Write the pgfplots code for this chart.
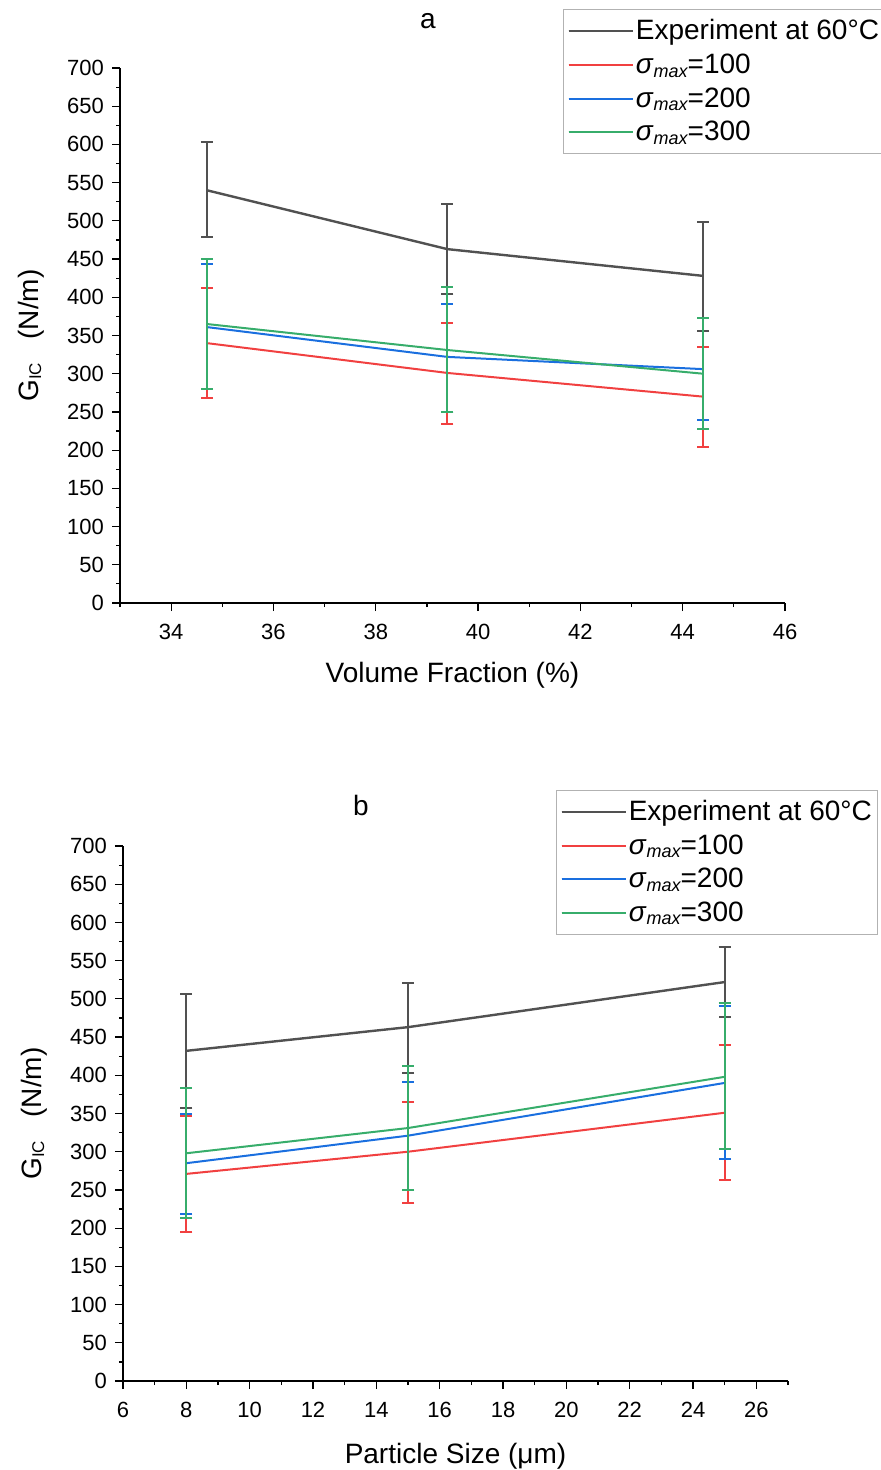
\documentclass[border=0pt]{standalone}
\usepackage{fontspec}
\setmainfont{Liberation Sans}
\usepackage{pgfplots}
\pgfplotsset{compat=1.18}
\definecolor{cexp}{HTML}{515151}
\definecolor{cred}{HTML}{F14040}
\definecolor{cblue}{HTML}{1A6FDF}
\definecolor{cgreen}{HTML}{37AD6B}
\newcommand{\smax}[1]{\textit{σ}\raisebox{-0.25ex}{\fontsize{9}{10}\selectfont\itshape max}=#1}
\pgfplotsset{
  myax/.style={
    scale only axis, width=332.5pt, height=267.5pt,
    axis lines=left, axis line style={-, line width=0.6pt},
    tick align=outside, major tick length=4pt, minor tick length=2pt,
    tick style={line width=0.6pt, black},
    ymin=0, ymax=700, ytick distance=50, minor y tick num=1, minor x tick num=1,
    /pgf/number format/assume math mode=true,
    ticklabel style={font=\fontsize{11}{13}\selectfont},
    xticklabel style={yshift=-3pt},
    yticklabel style={xshift=-0.5pt},
    label style={font=\fontsize{14}{16}\selectfont},
    ylabel={G\raisebox{-0.2ex}{\fontsize{8.5}{9}\selectfont IC}\ \ \ (N/m)},
    ylabel style={at={(axis description cs:0,0.5)}, anchor=center, rotate=0, yshift=44.5pt},
    legend style={draw=gray!60, line width=0.5pt, font=\fontsize{14}{16.75}\selectfont,
      inner xsep=2pt, inner ysep=3pt, row sep=1.5pt, cells={anchor=west},
      nodes={inner xsep=1pt}},
    legend image code/.code={\draw[#1, line width=1pt] (0pt,0pt) -- (30pt,0pt); \path (0pt,0pt) -- (32pt,0pt);},
    legend cell align=left,
    every axis plot/.append style={line width=1pt, mark=none},
    error bars/y dir=both, error bars/y explicit,
    error bars/error bar style={line width=1pt},
    error bars/error mark options={rotate=90, mark size=3pt, line width=1pt},
  }
}
\begin{document}
\begin{tikzpicture}
\node[font=\fontsize{14}{16}\selectfont] at (214pt,-10.5pt) {a};
\begin{axis}[myax, at={(60pt,-34pt)}, anchor=north west,
  xmin=33, xmax=46, xtick distance=2,
  xlabel={Volume Fraction (\%)},
  xlabel style={at={(axis description cs:0.5,0)}, anchor=center, yshift=-36pt},
  legend style={at={(axis description cs:0.6662,1.110)}, anchor=north west}]
\addplot[cexp, line width=1.2pt] table[x=x, y=y, y error plus=ep, y error minus=em] {
x y ep em
34.7 540 63 61
39.4 463 59 59
44.4 428 71 72
};
\addlegendentry{Experiment at 60°C}
\addplot[cred] table[x=x, y=y, y error plus=ep, y error minus=em] {
x y ep em
34.7 340 72 72
39.4 301 65 67
44.4 270 65 66
};
\addlegendentry{\smax{100}}
\addplot[cblue] table[x=x, y=y, y error plus=ep, y error minus=em] {
x y ep em
34.7 361 82 81
39.4 322 69 72
44.4 306 67 67
};
\addlegendentry{\smax{200}}
\addplot[cgreen] table[x=x, y=y, y error plus=ep, y error minus=em] {
x y ep em
34.7 365 85 85
39.4 331 82 81
44.4 300 73 72
};
\addlegendentry{\smax{300}}
\end{axis}
\node[font=\fontsize{14}{16}\selectfont] at (180.5pt,-402.5pt) {b};
\begin{axis}[myax, at={(61.5pt,-423pt)}, anchor=north west,
  xmin=6, xmax=27, xtick={6,8,...,26}, minor xtick={7,9,...,27},
  xlabel={Particle Size (μm)},
  xlabel style={at={(axis description cs:0.5,0)}, anchor=center, yshift=-37.5pt},
  legend style={at={(axis description cs:0.651,1.105)}, anchor=north west}]
\addplot[cexp, line width=1.2pt] table[x=x, y=y, y error plus=ep, y error minus=em] {
x y ep em
8 432 74 75
15 463 58 60
25 522 46 46
};
\addlegendentry{Experiment at 60°C}
\addplot[cred] table[x=x, y=y, y error plus=ep, y error minus=em] {
x y ep em
8 271 76 76
15 300 65 67
25 351 89 88
};
\addlegendentry{\smax{100}}
\addplot[cblue] table[x=x, y=y, y error plus=ep, y error minus=em] {
x y ep em
8 285 64 67
15 321 70 71
25 390 101 100
};
\addlegendentry{\smax{200}}
\addplot[cgreen] table[x=x, y=y, y error plus=ep, y error minus=em] {
x y ep em
8 298 85 85
15 331 81 81
25 398 97 94
};
\addlegendentry{\smax{300}}
\end{axis}
\pgfresetboundingbox
\path[use as bounding box] (0,0) rectangle (440.5pt,-735pt);
\end{tikzpicture}
\end{document}
